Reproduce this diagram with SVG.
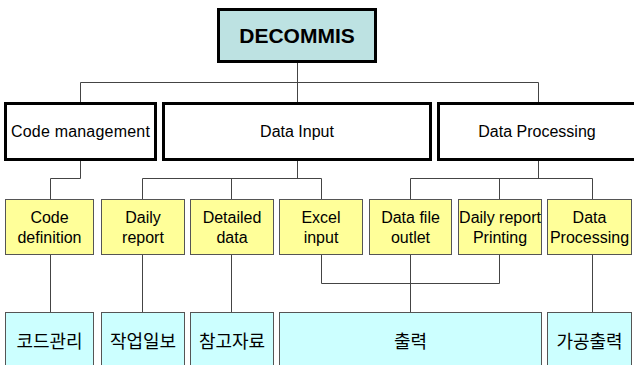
<svg xmlns="http://www.w3.org/2000/svg" width="634" height="365" viewBox="0 0 634 365">
  <style>
    .root { fill: #bde2e2; stroke: #000; stroke-width: 3; }
    .group { fill: #fff; stroke: #000; stroke-width: 3; }
    .item { fill: #ffff99; stroke: #555; stroke-width: 1; }
    .out { fill: #ccffff; stroke: #555; stroke-width: 1; }
    .t { font-family: "Liberation Sans", Arial, sans-serif; font-size: 16px; fill: #000; text-anchor: middle; }
    .title { font-family: "Liberation Sans", Arial, sans-serif; font-size: 21px; font-weight: bold; fill: #000; text-anchor: middle; }
    .ko { font-family: "Liberation Sans", "Noto Sans CJK KR", sans-serif; font-size: 18px; fill: #000; text-anchor: middle; }
    .wire { fill: none; stroke: #444; stroke-width: 1; }
  </style>

  <g id="connectors" class="wire">
    <!-- root to second level -->
    <path d="M297.5,63 V102"/>
    <path d="M80.5,102 V82.5 H538.5 V102"/>
    <!-- Code management branch -->
    <path d="M80.5,161 V178.5 H50.5 V199"/>
    <!-- Data Input branch -->
    <path d="M297.5,161 V178.5"/>
    <path d="M142.5,199 V178.5 H321.5 V199"/>
    <path d="M231.5,178.5 V199"/>
    <!-- Data Processing branch -->
    <path d="M538.5,161 V178.5"/>
    <path d="M410.5,199 V178.5 H592.5 V199"/>
    <path d="M499.5,178.5 V199"/>
    <!-- third level to outputs -->
    <path d="M50.5,255 V312"/>
    <path d="M142.5,255 V312"/>
    <path d="M231.5,255 V312"/>
    <path d="M321.5,255 V283.5 H499.5 V255"/>
    <path d="M410.5,255 V312"/>
    <path d="M592.5,255 V312"/>
  </g>

  <g id="decommis">
    <rect class="root" x="218.5" y="9.5" width="157" height="52"/>
    <text class="title" x="297" y="43">DECOMMIS</text>
  </g>

  <g id="code-management">
    <rect class="group" x="5.5" y="103.5" width="150" height="56"/>
    <text class="t" x="80.5" y="137" letter-spacing="0.2">Code management</text>
  </g>
  <g id="data-input">
    <rect class="group" x="163.5" y="103.5" width="267" height="56"/>
    <text class="t" x="297" y="137">Data Input</text>
  </g>
  <g id="data-processing">
    <rect class="group" x="438.5" y="103.5" width="200" height="56"/>
    <text class="t" x="537" y="137">Data Processing</text>
  </g>

  <g id="code-definition">
    <rect class="item" x="5.5" y="199.5" width="88" height="55"/>
    <text class="t" x="49.5" y="223">Code</text>
    <text class="t" x="49.5" y="243">definition</text>
  </g>
  <g id="daily-report">
    <rect class="item" x="101.5" y="199.5" width="83" height="55"/>
    <text class="t" x="143" y="223">Daily</text>
    <text class="t" x="143" y="243">report</text>
  </g>
  <g id="detailed-data">
    <rect class="item" x="190.5" y="199.5" width="83" height="55"/>
    <text class="t" x="232" y="223">Detailed</text>
    <text class="t" x="232" y="243">data</text>
  </g>
  <g id="excel-input">
    <rect class="item" x="279.5" y="199.5" width="83" height="55"/>
    <text class="t" x="321" y="223">Excel</text>
    <text class="t" x="321" y="243">input</text>
  </g>
  <g id="data-file-outlet">
    <rect class="item" x="369.5" y="199.5" width="82" height="55"/>
    <text class="t" x="410.5" y="223">Data file</text>
    <text class="t" x="410.5" y="243">outlet</text>
  </g>
  <g id="daily-report-printing">
    <rect class="item" x="458.5" y="199.5" width="83" height="55"/>
    <text class="t" x="500" y="223">Daily report</text>
    <text class="t" x="500" y="243">Printing</text>
  </g>
  <g id="data-processing-item">
    <rect class="item" x="547.5" y="199.5" width="84" height="55"/>
    <text class="t" x="589.5" y="223">Data</text>
    <text class="t" x="589.5" y="243">Processing</text>
  </g>

  <g id="code-admin">
    <rect class="out" x="5.5" y="312.5" width="88" height="60"/>
    <text class="ko" x="49.5" y="348">코드관리</text>
  </g>
  <g id="work-log">
    <rect class="out" x="101.5" y="312.5" width="83" height="60"/>
    <text class="ko" x="143" y="348">작업일보</text>
  </g>
  <g id="reference-data">
    <rect class="out" x="190.5" y="312.5" width="83" height="60"/>
    <text class="ko" x="232" y="348">참고자료</text>
  </g>
  <g id="output">
    <rect class="out" x="279.5" y="312.5" width="262" height="60"/>
    <text class="ko" x="410.5" y="348">출력</text>
  </g>
  <g id="processed-output">
    <rect class="out" x="547.5" y="312.5" width="84" height="60"/>
    <text class="ko" x="589.5" y="348">가공출력</text>
  </g>
</svg>
